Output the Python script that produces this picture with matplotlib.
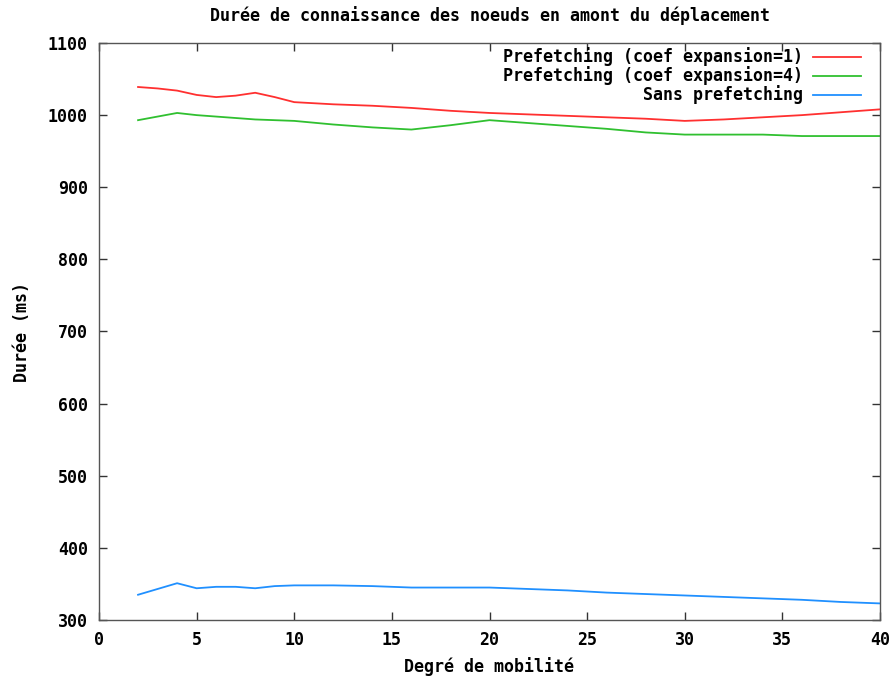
import matplotlib
matplotlib.use("Agg")
import matplotlib.pyplot as plt
import numpy as np

x = [2, 3, 4, 5, 6, 7, 8, 9, 10, 12, 14, 16, 18, 20, 22, 24, 26, 28, 30, 32, 34, 36, 38, 40]
coef1 = [1039, 1037, 1034, 1028, 1025, 1027, 1031, 1025, 1018, 1015, 1013, 1010, 1006, 1003,
         1001, 999, 997, 995, 992, 994, 997, 1000, 1004, 1008]
coef4 = [993, 998, 1003, 1000, 998, 996, 994, 993, 992, 987, 983, 980, 986, 993,
         989, 985, 981, 976, 973, 973, 973, 971, 971, 971]
sans = [335, 343, 351, 344, 346, 346, 344, 347, 348, 348, 347, 345, 345, 345,
        343, 341, 338, 336, 334, 332, 330, 328, 325, 323]
labels = ["Prefetching (coef expansion=1)", "Prefetching (coef expansion=4)", "Sans prefetching"]
colors = ["#ff3030", "#30c030", "#2090ff"]

plt.rcParams['font.family'] = ['DejaVu Sans Mono']
plt.rcParams['font.weight'] = 'bold'
fs = 12

fig = plt.figure(figsize=(8.95, 6.77), dpi=100)
ax = fig.add_axes([99/895, 57/677, (880-99)/895, (620-43)/677])

for ys, c in zip([coef1, coef4, sans], colors):
    ax.plot(x, ys, color=c, lw=1.3)

ax.set_xlim(0, 40)
ax.set_ylim(300, 1100)
ax.set_xticks(np.arange(0, 41, 5))
ax.set_yticks(np.arange(300, 1101, 100))
ax.tick_params(direction='in', length=6, width=1, top=True, right=True, labelsize=fs, pad=8, colors='#333333', labelcolor='black')
for lab in ax.get_xticklabels() + ax.get_yticklabels():
    lab.set_fontweight('bold')
for s in ax.spines.values():
    s.set_color('#555555')
    s.set_linewidth(1)

ax.set_title("Durée de connaissance des noeuds en amont du déplacement", fontsize=fs, fontweight='bold', pad=16)
ax.set_xlabel("Degré de mobilité", fontsize=fs, fontweight='bold', labelpad=6)
ax.set_ylabel("Durée (ms)", fontsize=fs, fontweight='bold', labelpad=12)

# legend
ypx = [57, 76, 95]
for lab, c, yp in zip(labels, colors, ypx):
    yy = 1 - (yp - 43) / (620 - 43)
    ax.text((803 - 99) / 781, yy, lab, transform=ax.transAxes, ha='right', va='center',
            fontsize=fs, fontweight='bold')
    ax.plot([(813 - 99) / 781, (861 - 99) / 781], [yy, yy], transform=ax.transAxes, color=c, lw=1.3)

fig.savefig("out.png", dpi=100)
